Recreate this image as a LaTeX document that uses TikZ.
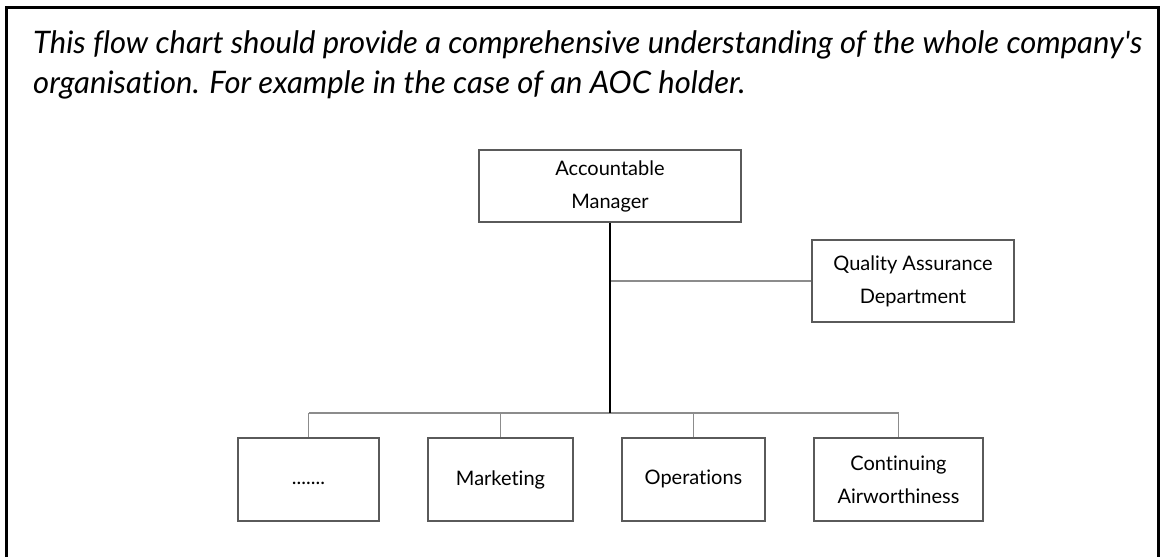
\documentclass[tikz,border=0pt]{standalone}
\usepackage{fontspec}
\setmainfont{Lato}[Ligatures=NoCommon]
\begin{document}
\begin{tikzpicture}[x=1pt,y=-1pt,
  orgbox/.style={draw=boxgray, line width=1.3pt, rectangle, align=center, inner sep=0pt,
    font=\fontsize{20}{33}\selectfont},
  conn/.style={draw=conngray, line width=1.3pt},
  trunk/.style={draw=black, line width=1.3pt},
  titletext/.style={anchor=base west, inner sep=0pt, font=\fontsize{31}{40}\selectfont\itshape}
]
\definecolor{boxgray}{HTML}{5A5A5A}
\definecolor{conngray}{HTML}{8C8C8C}
\useasboundingbox (0,0) rectangle (1162,557);
% frame
\draw[line width=2.2pt] (6.5,557) -- (6.5,7.5) -- (1158.5,7.5) -- (1158.5,557);
% title
\node[titletext] (t1) at (33,53) {This flow chart should provide a comprehensive understanding of the whole company\textquotesingle s};
\node[titletext] (t2) at (33,93) {organisation. For example in the case of an AOC holder.};
% boxes
\node[orgbox, minimum width=262pt, minimum height=72pt] (am) at (610,186) {Accountable\\Manager};
\node[orgbox, minimum width=202pt, minimum height=82pt] (qa) at (913,281) {Quality Assurance\\Department};
\node[orgbox, minimum width=141pt, minimum height=83pt] (b1) at (308.5,479.5) {\vphantom{Mg}.......};
\node[orgbox, minimum width=145pt, minimum height=83pt] (b2) at (500.5,479.5) {\vphantom{Mg}Marketing};
\node[orgbox, minimum width=143pt, minimum height=83pt] (b3) at (693.5,479.5) {\vphantom{Mg}Operations};
\node[orgbox, minimum width=169pt, minimum height=83pt] (b4) at (898.5,479.5) {Continuing\\Airworthiness};
% connectors
\coordinate (bus) at (610,413);
\draw[conn] (am.south |- qa.west) -- (qa.west);
\draw[conn] (b1.north |- bus) -- (b4.north |- bus);
\draw[conn] (b1.north |- bus) -- (b1.north);
\draw[conn] (b2.north |- bus) -- (b2.north);
\draw[conn] (b3.north |- bus) -- (b3.north);
\draw[conn] (b4.north |- bus) -- (b4.north);
\draw[trunk] (am.south) -- (bus);
\end{tikzpicture}
\end{document}
